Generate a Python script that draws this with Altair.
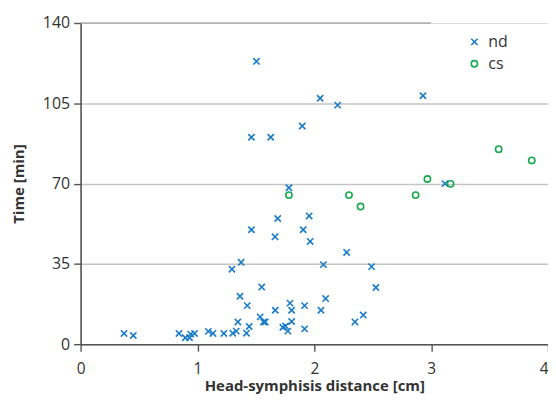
import altair as alt
import pandas as pd

nd_x = [0.372, 0.451, 0.842, 0.896, 0.932, 0.942, 0.975, 1.093, 1.133, 1.226, 1.302, 1.332, 1.420,
        1.346, 1.443, 1.364, 1.426, 1.295, 1.374, 1.462, 1.537, 1.565, 1.580, 1.550, 1.666, 1.664,
        1.687, 1.731, 1.754, 1.774, 1.792, 1.806, 1.806, 1.783, 1.917, 1.917, 1.905, 1.956, 1.965,
        2.057, 2.078, 2.097, 2.277, 2.348, 2.419, 2.490, 2.527, 3.118, 1.462, 1.505, 1.627, 1.897,
        2.050, 2.200, 2.930]
nd_y = [4.7, 3.8, 4.7, 2.8, 2.8, 4.4, 4.7, 5.6, 4.7, 4.7, 4.8, 5.7, 4.8,
        9.7, 7.7, 20.9, 16.8, 32.7, 35.7, 49.9, 11.9, 9.7, 9.7, 24.9, 14.8, 46.8,
        54.8, 7.4, 7.9, 5.7, 17.9, 14.8, 9.9, 68.2, 16.8, 6.7, 49.9, 55.9, 44.8,
        14.8, 34.7, 19.9, 40.0, 9.7, 12.7, 33.8, 24.7, 70.0, 90.2, 123.3, 90.2, 95.1,
        107.2, 104.2, 108.3]

cs_x = [1.783, 2.297, 2.396, 2.867, 2.968, 3.166, 3.578, 3.861]
cs_y = [65.0, 65.0, 60.0, 65.0, 72.0, 69.9, 85.0, 80.1]

groups = ["nd", "cs"]
x_ticks = [0, 1, 2, 3, 4]
y_ticks = [0, 35, 70, 105, 140]
top_line_x = [0, 3]

df = pd.DataFrame({
    "x": nd_x + cs_x,
    "y": nd_y + cs_y,
    "g": ["nd"] * len(nd_x) + ["cs"] * len(cs_x),
})

FONT = "Open Sans"
BLUE = "#1a7cc8"
GREEN = "#17a84e"
XPATH = "M-1,-1L1,1M1,-1L-1,1"

xscale = alt.Scale(domain=[0, 4], nice=False)
yscale = alt.Scale(domain=[0, 140], nice=False)

points = alt.Chart(df).mark_point(filled=False, strokeWidth=1.6, opacity=1).encode(
    x=alt.X("x:Q", scale=xscale, title="Head-symphisis distance [cm]",
            axis=alt.Axis(values=x_ticks, format="d", grid=False, domainColor="#555", domainWidth=1.6,
                          tickColor="#555", tickWidth=1.4, tickSize=7, labelFontSize=15.5,
                          labelColor="#333", labelFont=FONT, labelPadding=10, labelFlush=False,
                          labelAlign={"condition": {"test": "datum.value === 4", "value": "right"},
                                      "value": "center"},
                          titleFont=FONT, titleFontSize=15, titleFontWeight="bold",
                          titleColor="#333", titlePadding=2)),
    y=alt.Y("y:Q", scale=yscale, title="Time [min]",
            axis=alt.Axis(values=y_ticks, format="d", grid=True,
                          gridColor={"condition": {"test": "datum.value === 140", "value": "transparent"},
                                     "value": "#c4c4c4"},
                          gridWidth=1.5, domainColor="#555", domainWidth=1.6,
                          tickColor="#555", tickWidth=1.4, tickSize=7, labelFontSize=16,
                          labelColor="#333", labelFont=FONT, labelPadding=4,
                          titleFont=FONT, titleFontSize=15, titleFontWeight="bold",
                          titleColor="#333", titlePadding=16)),
    color=alt.Color("g:N", scale=alt.Scale(domain=groups, range=[BLUE, GREEN]),
                    legend=alt.Legend(title=None, orient="none", legendX=388, legendY=11,
                                      labelFont=FONT, labelFontSize=16, labelColor="#333",
                                      symbolStrokeWidth=1.6, symbolSize=40, rowPadding=6,
                                      labelOffset=6)),
    shape=alt.Shape("g:N", scale=alt.Scale(domain=groups, range=[XPATH, "circle"]), legend=None),
    size=alt.value(40),
)

top = alt.Chart(pd.DataFrame({"x": [top_line_x[0]], "x2": [top_line_x[1]], "y": [y_ticks[-1]]})).mark_rule(
    color="#8a8a8a", strokeWidth=1.2).encode(
    x=alt.X("x:Q", scale=xscale), x2="x2:Q", y=alt.Y("y:Q", scale=yscale))

chart = alt.layer(top, points).properties(
    width=470, height=323,
    autosize=alt.AutoSizeParams(type="none"),
    padding={"left": 73, "top": 14, "right": 0, "bottom": 50},
).configure_view(stroke=None).configure(background="white")

chart.save("out.html", embed_options={"renderer": "svg", "actions": False})
